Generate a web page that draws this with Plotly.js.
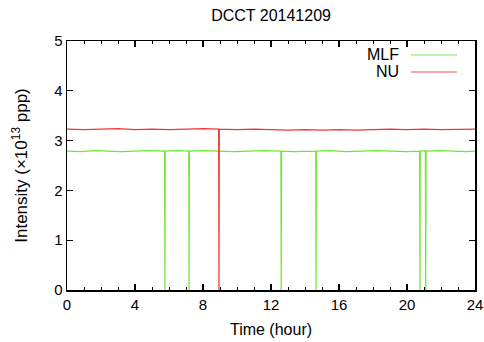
<!DOCTYPE html>
<html><head><meta charset="utf-8">
<script src="https://cdn.plot.ly/plotly-3.0.1.min.js"></script>
<style>html,body{margin:0;padding:0;background:#fff}#c{width:484px;height:342px}</style>
</head><body><div id="c"></div>
<script>
const mlfTime = [0, 0.8, 1.6, 2.4, 3.2, 4.0, 4.8, 5.74, 5.76, 5.78, 6.5, 7.16, 7.18, 7.20, 8.0, 8.9, 9.8, 10.7, 11.6, 12.58, 12.60, 12.62, 13.4, 14.63, 14.65, 14.67, 15.5, 16.4, 17.3, 18.2, 19.1, 20.0, 20.74, 20.76, 20.78, 21.08, 21.10, 21.12, 21.9, 22.8, 23.5, 24];
const mlfValue = [2.79, 2.78, 2.80, 2.79, 2.78, 2.79, 2.80, 2.79, 0, 2.79, 2.80, 2.79, 0, 2.79, 2.80, 2.79, 2.78, 2.79, 2.80, 2.79, 0, 2.79, 2.78, 2.79, 0, 2.79, 2.80, 2.78, 2.79, 2.80, 2.79, 2.78, 2.79, 0, 2.79, 2.80, 0, 2.79, 2.80, 2.79, 2.78, 2.79];
const nuTime = [0, 1.0, 2.0, 3.0, 4.0, 5.0, 6.0, 7.0, 8.0, 8.92, 8.94, 8.96, 10.0, 11.0, 12.0, 13.0, 14.0, 15.0, 16.0, 17.0, 18.0, 19.0, 20.0, 21.0, 22.0, 23.0, 24];
const nuValue = [3.23, 3.22, 3.23, 3.24, 3.22, 3.23, 3.22, 3.23, 3.24, 3.23, 0, 3.23, 3.22, 3.23, 3.22, 3.21, 3.22, 3.21, 3.22, 3.21, 3.22, 3.23, 3.22, 3.23, 3.22, 3.23, 3.23];
const seriesNames = ['MLF', 'NU'];
const seriesColors = ['#6fe832', '#f03535'];
const legendColors = ['#a8f08a', '#f58a8a'];

const font = {family: 'Liberation Sans, Arial, sans-serif', color: '#000', size: 15};
const traces = [
  {x: mlfTime, y: mlfValue, name: seriesNames[0], type: 'scatter', mode: 'lines', line: {color: seriesColors[0], width: 1.2}},
  {x: nuTime, y: nuValue, name: seriesNames[1], type: 'scatter', mode: 'lines', line: {color: seriesColors[1], width: 1.2}}
];
const legY = [0.944, 0.876];
const annotations = seriesNames.map((n, i) => ({
  text: n, xref: 'paper', yref: 'paper', x: 0.818, y: legY[i], xanchor: 'right', yanchor: 'middle',
  showarrow: false, font: {family: font.family, size: 16, color: '#000'}
}));
const shapes = seriesNames.map((n, i) => ({
  type: 'line', xref: 'paper', yref: 'paper', x0: 0.843, x1: 0.956, y0: legY[i], y1: legY[i],
  line: {color: legendColors[i], width: 1.5}
}));
const layout = {
  width: 484, height: 342,
  margin: {l: 67, r: 9, t: 41, b: 52},
  paper_bgcolor: '#fff', plot_bgcolor: '#fff',
  font: font,
  showlegend: false,
  title: {text: 'DCCT 20141209', x: 0.56, xanchor: 'center', y: 0.955, yanchor: 'middle', font: {family: font.family, size: 16}},
  xaxis: {
    range: [0, 24], dtick: 4, tick0: 0, ticks: 'inside', ticklen: 6, tickwidth: 1.3, tickcolor: '#000',
    showline: true, linecolor: '#000', linewidth: 1.5, mirror: 'ticks', showgrid: false, zeroline: false,
    minor: {dtick: 1, ticks: 'inside', ticklen: 3, tickwidth: 1, tickcolor: '#000', showgrid: false},
    tickfont: {size: 15}, title: {text: 'Time (hour)', font: {size: 16}, standoff: 12}
  },
  yaxis: {
    range: [0, 5], dtick: 1, ticks: 'inside', ticklen: 6, tickwidth: 1.3, tickcolor: '#000',
    showline: true, linecolor: '#000', linewidth: 1.5, mirror: 'ticks', showgrid: false, zeroline: false,
    tickfont: {size: 15}, title: {text: 'Intensity (×10<sup>13</sup> ppp)', font: {size: 17}, standoff: 22}
  },
  annotations: annotations,
  shapes: shapes
};
Plotly.newPlot('c', traces, layout, {displayModeBar: false, staticPlot: true});
</script></body></html>
